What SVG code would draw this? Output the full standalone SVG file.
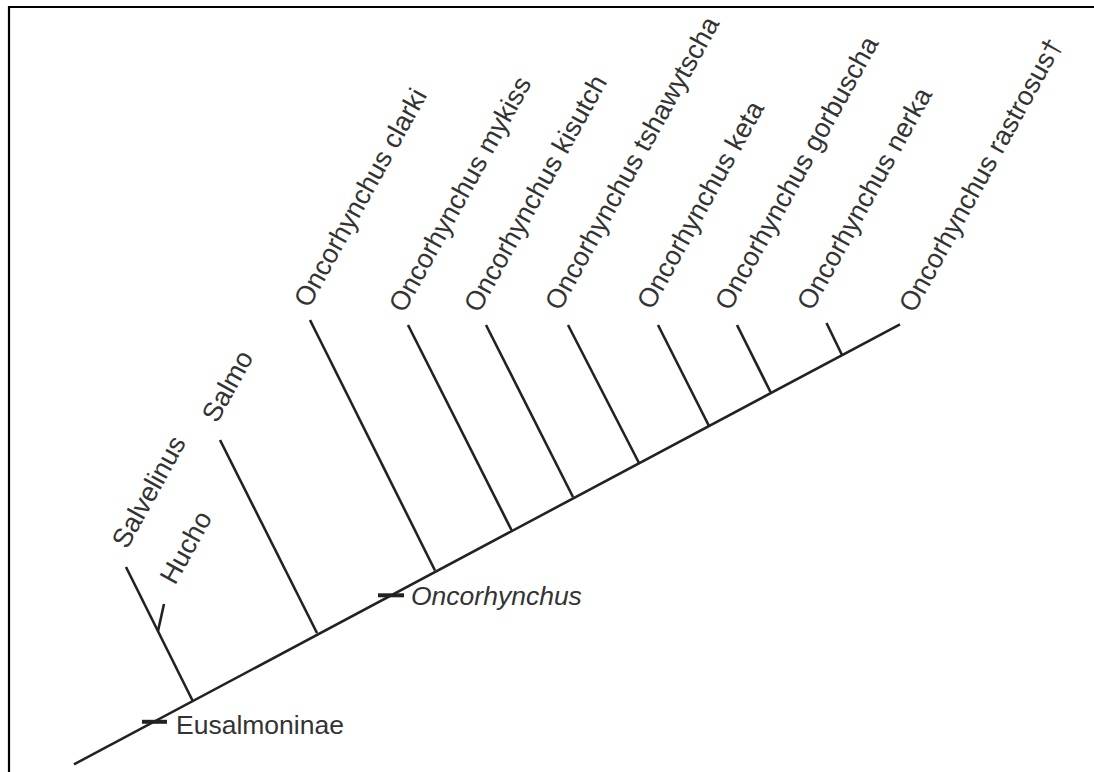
<svg xmlns="http://www.w3.org/2000/svg" width="1094" height="772" viewBox="0 0 1094 772">
<style>
.frame{stroke:#000;stroke-width:2.2;fill:none}
.br{stroke:#222;stroke-width:2.6;fill:none;stroke-linecap:butt}
.tick{stroke:#222;stroke-width:4;fill:none}
.lbl{font-family:"Liberation Sans",Arial,sans-serif;font-size:26.5px;fill:#333}
.rot{font-size:27px}
.it{font-style:italic}
</style>
<rect width="1094" height="772" fill="#fff"/>
<g id="frame"><path class="frame" d="M9,772 V7 H1094"/></g>
<g id="connectors">
<line class="br" x1="74" y1="764.3" x2="900" y2="324.3"/>
<line class="br" x1="126" y1="567" x2="192.5" y2="700.5"/>
<line class="br" x1="164" y1="604" x2="158" y2="631"/>
<line class="br" x1="220" y1="440" x2="317" y2="633"/>
<line class="br" x1="310" y1="320" x2="435" y2="570.5"/>
<line class="br" x1="408" y1="325" x2="512" y2="531"/>
<line class="br" x1="486" y1="325" x2="573" y2="497"/>
<line class="br" x1="568" y1="325" x2="639" y2="463"/>
<line class="br" x1="658" y1="325" x2="709" y2="426"/>
<line class="br" x1="737" y1="325" x2="770.5" y2="392"/>
<line class="br" x1="826.5" y1="323" x2="842" y2="355"/>
<line class="tick" x1="142" y1="721.8" x2="167" y2="721.8"/>
<line class="tick" x1="378" y1="595.3" x2="404" y2="595.3"/>
</g>
<g id="n-eusalmoninae"><text class="lbl" x="176" y="734">Eusalmoninae</text></g>
<g id="n-oncorhynchus"><text class="lbl it" x="411" y="605">Oncorhynchus</text></g>
<g id="n-salvelinus"><text class="lbl rot" transform="translate(127,550) rotate(-61)">Salvelinus</text></g>
<g id="n-hucho"><text class="lbl rot" transform="translate(175,586) rotate(-61)">Hucho</text></g>
<g id="n-salmo"><text class="lbl rot" transform="translate(217,424) rotate(-61)">Salmo</text></g>
<g id="n-clarki"><text class="lbl rot" transform="translate(309,309) rotate(-61)">Oncorhynchus clarki</text></g>
<g id="n-mykiss"><text class="lbl rot" transform="translate(404,314) rotate(-61)">Oncorhynchus mykiss</text></g>
<g id="n-kisutch"><text class="lbl rot" transform="translate(479,314) rotate(-61)">Oncorhynchus kisutch</text></g>
<g id="n-tshawytscha"><text class="lbl rot" transform="translate(560,312) rotate(-61)">Oncorhynchus tshawytscha</text></g>
<g id="n-keta"><text class="lbl rot" transform="translate(652,311) rotate(-61)">Oncorhynchus keta</text></g>
<g id="n-gorbuscha"><text class="lbl rot" transform="translate(730,312) rotate(-61)">Oncorhynchus gorbuscha</text></g>
<g id="n-nerka"><text class="lbl rot" transform="translate(812,312) rotate(-61)">Oncorhynchus nerka</text></g>
<g id="n-rastrosus"><text class="lbl rot" transform="translate(914,314) rotate(-61)">Oncorhynchus rastrosus†</text></g>
</svg>
